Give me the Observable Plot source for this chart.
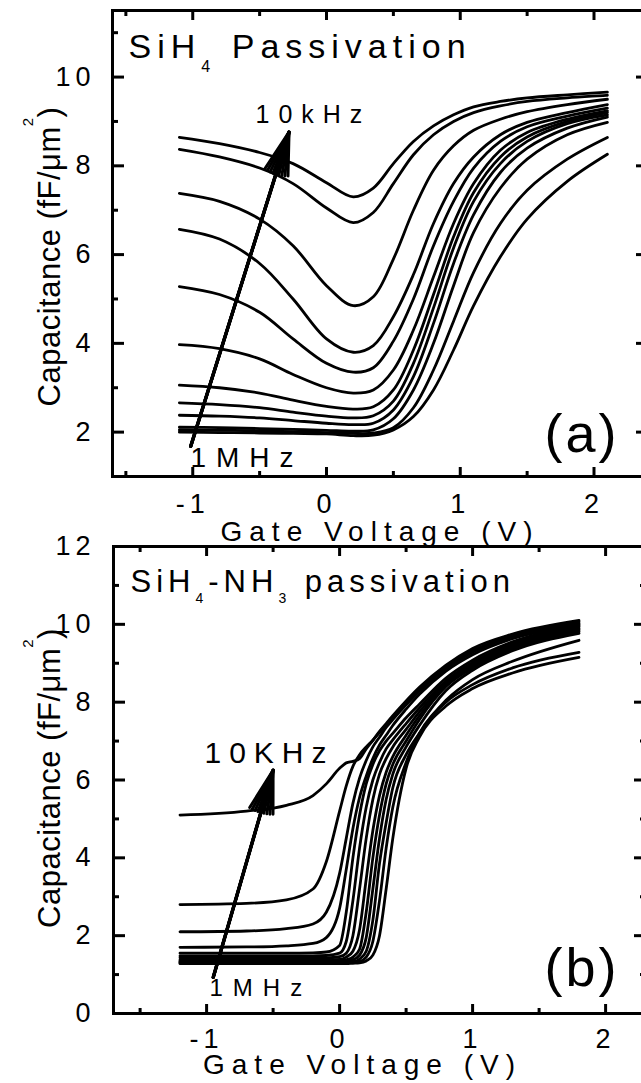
<!DOCTYPE html>
<html><head><meta charset="utf-8">
<script src="https://cdn.jsdelivr.net/npm/d3@7"></script>
<script src="https://cdn.jsdelivr.net/npm/@observablehq/plot@0.6"></script>
<style>
html,body{margin:0;padding:0;background:#fff;}
#fig{position:relative;width:641px;height:1083px;overflow:hidden;background:#fff;}
#fig svg{position:absolute;left:0;}
</style></head><body><div id="fig"></div>
<script>
// ---------------- data ----------------
// Panel (a): SiH4 passivation, gate voltage grid (V)
const voltsA = [-1.1, -0.8, -0.5, -0.25, 0, 0.2, 0.35, 0.5, 0.65, 0.8, 0.95, 1.1, 1.3, 1.5, 1.8, 2.1];
// capacitance (fF/um^2), one row per frequency, 10 kHz ... 1 MHz
const capA = [
  [8.64, 8.50, 8.30, 8.05, 7.62, 7.30, 7.50, 8.05, 8.55, 8.90, 9.15, 9.33, 9.45, 9.53, 9.60, 9.66],
  [8.37, 8.20, 7.95, 7.60, 7.05, 6.72, 6.95, 7.60, 8.25, 8.70, 9.00, 9.20, 9.35, 9.45, 9.53, 9.59],
  [7.38, 7.20, 6.80, 6.20, 5.30, 4.85, 5.05, 5.90, 7.00, 7.90, 8.45, 8.80, 9.05, 9.22, 9.38, 9.50],
  [6.57, 6.35, 5.80, 5.00, 4.10, 3.80, 3.95, 4.60, 5.55, 6.70, 7.60, 8.20, 8.70, 8.98, 9.20, 9.38],
  [5.28, 5.10, 4.70, 4.10, 3.55, 3.35, 3.45, 4.05, 5.00, 6.20, 7.20, 7.95, 8.55, 8.88, 9.12, 9.30],
  [3.97, 3.88, 3.65, 3.30, 3.00, 2.88, 2.95, 3.40, 4.30, 5.50, 6.70, 7.60, 8.35, 8.75, 9.05, 9.24],
  [3.06, 3.00, 2.88, 2.72, 2.58, 2.52, 2.57, 2.95, 3.85, 5.10, 6.40, 7.40, 8.20, 8.65, 9.00, 9.20],
  [2.66, 2.62, 2.55, 2.45, 2.36, 2.32, 2.37, 2.70, 3.55, 4.80, 6.15, 7.20, 8.05, 8.55, 8.95, 9.15],
  [2.38, 2.36, 2.32, 2.26, 2.20, 2.17, 2.20, 2.50, 3.25, 4.45, 5.80, 6.90, 7.85, 8.40, 8.85, 9.10],
  [2.11, 2.10, 2.08, 2.06, 2.04, 2.02, 2.05, 2.30, 2.95, 4.00, 5.30, 6.50, 7.50, 8.15, 8.70, 8.98],
  [2.05, 2.04, 2.03, 2.01, 1.99, 1.97, 1.98, 2.10, 2.55, 3.40, 4.50, 5.60, 6.70, 7.45, 8.15, 8.64],
  [2.00, 1.99, 1.98, 1.97, 1.96, 1.92, 1.93, 2.05, 2.35, 2.95, 3.85, 4.85, 5.95, 6.80, 7.65, 8.26]
];
// Panel (b): SiH4-NH3 passivation
const voltsB = [-1.2, -0.7, -0.4, -0.2, -0.1, 0, 0.05, 0.1, 0.15, 0.2, 0.25, 0.3, 0.35, 0.4, 0.5, 0.6, 0.8, 1.0, 1.3, 1.8];
const capB = [
  [5.10, 5.20, 5.35, 5.60, 5.90, 6.30, 6.44, 6.48, 6.55, 6.80, 7.02, 7.25, 7.45, 7.65, 8.03, 8.38, 8.95, 9.38, 9.75, 10.10],
  [2.80, 2.83, 2.92, 3.20, 3.90, 5.20, 5.85, 6.35, 6.65, 6.85, 7.02, 7.22, 7.42, 7.60, 7.98, 8.32, 8.90, 9.32, 9.71, 10.07],
  [2.10, 2.12, 2.18, 2.30, 2.60, 3.60, 4.50, 5.40, 6.05, 6.50, 6.85, 7.10, 7.35, 7.55, 7.93, 8.28, 8.86, 9.28, 9.68, 10.03],
  [1.70, 1.71, 1.74, 1.80, 1.95, 2.70, 3.70, 4.75, 5.55, 6.10, 6.55, 6.90, 7.15, 7.40, 7.82, 8.20, 8.80, 9.22, 9.63, 10.00],
  [1.55, 1.55, 1.55, 1.56, 1.58, 1.75, 2.60, 4.00, 5.10, 5.90, 6.40, 6.75, 7.00, 7.20, 7.60, 7.95, 8.62, 9.08, 9.55, 9.97],
  [1.48, 1.48, 1.48, 1.48, 1.49, 1.55, 1.85, 2.90, 4.25, 5.30, 6.00, 6.45, 6.80, 7.03, 7.45, 7.85, 8.55, 9.02, 9.50, 9.94],
  [1.43, 1.43, 1.43, 1.43, 1.43, 1.46, 1.55, 2.00, 3.20, 4.50, 5.50, 6.15, 6.55, 6.85, 7.30, 7.75, 8.50, 8.97, 9.45, 9.90],
  [1.38, 1.38, 1.38, 1.38, 1.38, 1.39, 1.45, 1.60, 2.15, 3.45, 4.70, 5.60, 6.20, 6.60, 7.15, 7.65, 8.45, 8.93, 9.41, 9.86],
  [1.35, 1.35, 1.35, 1.35, 1.35, 1.35, 1.38, 1.45, 1.65, 2.60, 4.00, 5.10, 5.90, 6.40, 7.00, 7.55, 8.40, 8.88, 9.37, 9.82],
  [1.33, 1.33, 1.33, 1.33, 1.33, 1.33, 1.35, 1.38, 1.50, 1.95, 3.20, 4.50, 5.50, 6.15, 6.85, 7.40, 8.30, 8.82, 9.32, 9.77],
  [1.31, 1.31, 1.31, 1.31, 1.31, 1.31, 1.32, 1.33, 1.40, 1.60, 2.40, 3.85, 4.90, 5.80, 6.65, 7.20, 8.05, 8.58, 9.05, 9.59],
  [1.30, 1.30, 1.30, 1.30, 1.30, 1.30, 1.30, 1.32, 1.34, 1.45, 1.85, 2.90, 4.25, 5.30, 6.45, 7.20, 8.00, 8.45, 8.88, 9.28],
  [1.28, 1.28, 1.28, 1.28, 1.28, 1.28, 1.28, 1.29, 1.30, 1.35, 1.50, 2.00, 3.20, 4.50, 6.30, 7.10, 7.90, 8.35, 8.75, 9.15]
];
// ticks
const xTicks = [-1, 0, 1, 2];
const xMinor = [-1.5, -0.5, 0.5, 1.5];
const yTicksA = [2, 4, 6, 8, 10];
const yMinorA = [3, 5, 7, 9, 11];
const yTicksB = [0, 2, 4, 6, 8, 10, 12];
const yMinorB = [1, 3, 5, 7, 9, 11];
// texts
const titleA = "SiH_{4} Passivation";
const titleB = "SiH_{4}-NH_{3} passivation";
const xLabel = "Gate Voltage (V)";
const yLabel = "Capacitance (fF/μm^{2})";
const hiA = "10kHz", loA = "1MHz", tagA = "(a)";
const hiB = "10KHz", loB = "1MHz", tagB = "(b)";
// arrows (data coordinates: V, fF/um^2)
const arrowA = {x1: -1.015, y1: 1.68, x2: -0.28, y2: 8.76};
const arrowB = {x1: -0.95, y1: 0.93, x2: -0.50, y2: 6.25};

// ---------------- drawing ----------------
const FONT = "'Liberation Sans', Arial, Helvetica, sans-serif";

function makePanel(c) {
  const rows = c.caps.flatMap((row, k) => row.map((v, j) => ({v: c.volts[j], c: v, k})));
  const noText = {label: null, strokeWidth: 3, tickFormat: () => ""};
  const txt = (s, x, y, size) => Plot.text([s], {x: () => x, y: () => y, text: d => d, fontSize: size, textAnchor: "start", lineAnchor: "bottom", fill: "black"});
  // filled-looking arrow head: several chevrons fanning from the tip
  const heads = [0, 8, 16, 24, 32].map(a => Plot.arrow([c.arrow], {x1: "x1", y1: "y1", x2: "x2", y2: "y2", stroke: "black", strokeWidth: a === 0 ? 3.5 : 3, headLength: a === 0 ? 0 : 22, headAngle: a || 1}));
  return Plot.plot({
    width: 647, height: c.height,
    marginLeft: c.ml, marginRight: c.mr, marginTop: c.mt, marginBottom: c.mb,
    x: {domain: c.xDomain}, y: {domain: c.yDomain},
    style: {fontFamily: FONT, background: "transparent", overflow: "visible", maxWidth: "none", color: "black"},
    marks: [
      Plot.line(rows, {x: "v", y: "c", z: "k", stroke: "black", strokeWidth: 2.8, curve: c.curve}),
      ...heads,
      txt(c.title, c.titlePos[0], c.titlePos[1], c.titleSize),
      txt(c.hi, c.hiPos[0], c.hiPos[1], c.hiSize),
      txt(c.lo, c.loPos[0], c.loPos[1], c.loSize),
      txt(c.tag, c.tagPos[0], c.tagPos[1], 54),
      Plot.frame({stroke: "black", strokeWidth: 3}),
      Plot.axisX(xTicks, {anchor: "bottom", tickSize: -9, ...noText}),
      Plot.axisX(xMinor, {anchor: "bottom", tickSize: -5, ...noText}),
      Plot.axisX(xTicks, {anchor: "top", tickSize: -9, ...noText}),
      Plot.axisX(xMinor, {anchor: "top", tickSize: -5, ...noText}),
      Plot.axisY(c.yTicks, {anchor: "left", tickSize: -12, ...noText}),
      Plot.axisY(c.yMinor, {anchor: "left", tickSize: -6, ...noText}),
      Plot.axisY(c.yTicks, {anchor: "right", tickSize: -12, ...noText}),
      Plot.axisY(c.yMinor, {anchor: "right", tickSize: -6, ...noText}),
      Plot.axisX(xTicks, {anchor: "bottom", tickSize: 0, tickPadding: c.xPad, fontSize: 27, label: null, tickFormat: d => String(d)}),
      Plot.axisY(c.yTicks, {anchor: "left", tickSize: 0, tickPadding: c.yPad, fontSize: 27, textAnchor: "end", label: null, tickFormat: d => String(d)}),
      Plot.text([xLabel], {frameAnchor: "bottom", text: d => d, dx: c.xTitleDx, dy: c.xTitleDy, textAnchor: "middle", lineAnchor: "bottom", fontSize: 28, fill: "black"}),
      Plot.text([yLabel], {frameAnchor: "left", text: d => d, rotate: -90, dx: c.yTitleDx, dy: c.yTitleDy, textAnchor: "middle", lineAnchor: "bottom", fontSize: 31, fill: "black"})
    ]
  });
}

function rich(el, subSize, shift) {
  const raw = el.textContent;
  const parts = raw.split(/([_^]\{[^}]*\})/);
  el.textContent = "";
  let cur = 0;
  for (const p of parts) {
    if (!p) continue;
    const m = p.match(/^([_^])\{([^}]*)\}$/);
    const ts = document.createElementNS("http://www.w3.org/2000/svg", "tspan");
    if (m) {
      const d = m[1] === "_" ? shift : -shift;
      ts.setAttribute("dy", d - cur); cur = d;
      ts.setAttribute("font-size", subSize);
      ts.textContent = m[2];
    } else {
      ts.setAttribute("dy", -cur); cur = 0;
      ts.textContent = p;
    }
    el.appendChild(ts);
  }
}

function finish(svg, specs) {
  d3.select(svg).selectAll("text").each(function () {
    const raw = this.textContent;
    if (/^-?\d+$/.test(raw)) { this.setAttribute("letter-spacing", 5); return; }
    const s = specs[raw];
    if (!s) return;
    this.setAttribute("letter-spacing", s.ls);
    if (s.sub) rich(this, s.sub, s.shift);
  });
}

const fig = document.getElementById("fig");

const svgA = makePanel({
  volts: voltsA, caps: capA, curve: "catmull-rom", height: 550, ml: 112, mr: 0, mt: 10, mb: 74,
  xDomain: [-1.6, 2.4], yDomain: [1, 11.5], yTicks: yTicksA, yMinor: yMinorA,
  arrow: arrowA, xPad: 17, yPad: 17,
  title: titleA, titlePos: [-1.48, 10.42], titleSize: 34,
  hi: hiA, hiPos: [-0.531, 8.954], hiSize: 25,
  lo: loA, loPos: [-1.017, 1.203], loSize: 28,
  tag: tagA, tagPos: [1.63, 1.563],
  xTitleDx: 0, xTitleDy: 64, yTitleDx: -53, yTitleDy: 13
});
svgA.style.top = "0px";
fig.appendChild(svgA);

const svgB = makePanel({
  volts: voltsB, caps: capB, curve: "monotone-x", height: 583, ml: 113, mr: 2, mt: 46, mb: 70,
  xDomain: [-1.7, 2.3], yDomain: [0, 12], yTicks: yTicksB, yMinor: yMinorB,
  arrow: arrowB, xPad: 15, yPad: 18,
  title: titleB, titlePos: [-1.572, 10.82], titleSize: 31,
  hi: hiB, hiPos: [-1.016, 6.449], hiSize: 30,
  lo: loB, loPos: [-0.978, 0.4625], loSize: 24,
  tag: tagB, tagPos: [1.541, 0.719],
  xTitleDx: -17, xTitleDy: 60, yTitleDx: -54, yTitleDy: -2
});
svgB.style.top = "500px";
fig.appendChild(svgB);

const specs = {
  [titleA]: {ls: 6, sub: 16, shift: 14},
  [titleB]: {ls: 5, sub: 14, shift: 11},
  [xLabel]: {ls: 7},
  [yLabel]: {ls: 0.5, sub: 15, shift: 27},
  "10kHz": {ls: 9}, "10KHz": {ls: 8}, "1MHz": {ls: 10},
  "(a)": {ls: 3}, "(b)": {ls: 3}
};
finish(svgA, specs);
finish(svgB, specs);
</script></body></html>
